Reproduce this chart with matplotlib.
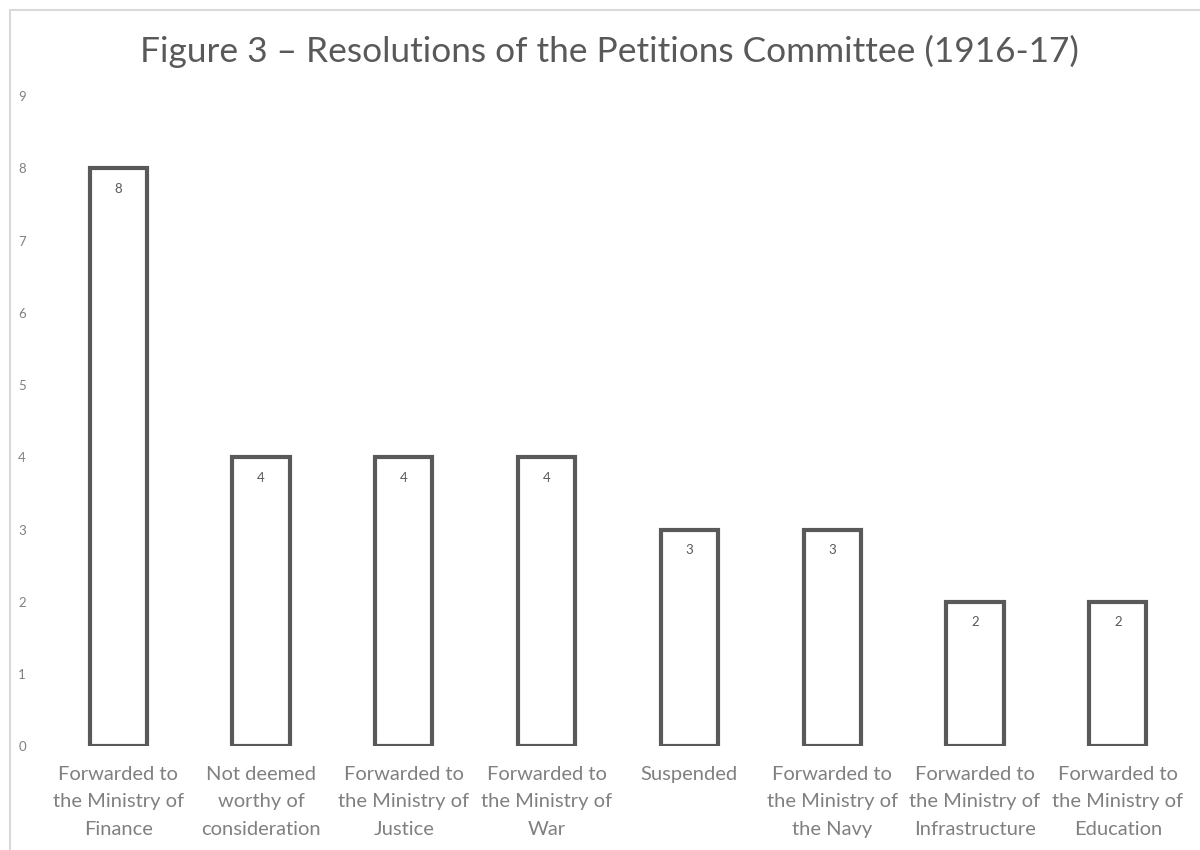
import matplotlib.pyplot as plt
from matplotlib.patches import Rectangle

plt.rcParams['font.family'] = ['Lato', 'DejaVu Sans']

categories = [
    'Forwarded to\nthe Ministry of\nFinance',
    'Not deemed\nworthy of\nconsideration',
    'Forwarded to\nthe Ministry of\nJustice',
    'Forwarded to\nthe Ministry of\nWar',
    'Suspended',
    'Forwarded to\nthe Ministry of\nthe Navy',
    'Forwarded to\nthe Ministry of\nInfrastructure',
    'Forwarded to\nthe Ministry of\nEducation',
]
counts = [8, 4, 4, 4, 3, 3, 2, 2]

fig = plt.figure(figsize=(12, 8.5), dpi=100)
ax = fig.add_axes([0.039, 0.122, 0.952, 0.765])

x = range(len(categories))
bars = ax.bar(x, counts, width=0.4, facecolor='white', edgecolor='#595959', linewidth=3)
for rect, v in zip(bars, counts):
    ax.text(rect.get_x() + rect.get_width() / 2, v - 0.28, str(v),
            ha='center', va='center', fontsize=9.5, color='#595959')

ax.set_ylim(0, 9)
ax.set_xlim(-0.5, len(categories) - 0.5)
ax.set_yticks(range(10))
ax.set_xticks(list(x))
ax.set_xticklabels(categories, fontsize=14.5, color='#808080', linespacing=1.75)
ax.tick_params(axis='y', labelsize=9.5, labelcolor='#808080', length=0, pad=15)
ax.tick_params(axis='x', length=0, pad=14)
for s in ax.spines.values():
    s.set_visible(False)

fig.text(0.508, 0.940, 'Figure 3 \u2013 Resolutions of the Petitions Committee (1916-17)',
         ha='center', va='center', fontsize=25.4, color='#595959')

# outer chart border
fig.patches.append(Rectangle((10 / 1200, -0.1), 1.2, 1 - 10 / 850 + 0.1, transform=fig.transFigure,
                             fill=False, edgecolor='#d9d9d9', linewidth=1.5))

fig.savefig('out.png', dpi=100)
